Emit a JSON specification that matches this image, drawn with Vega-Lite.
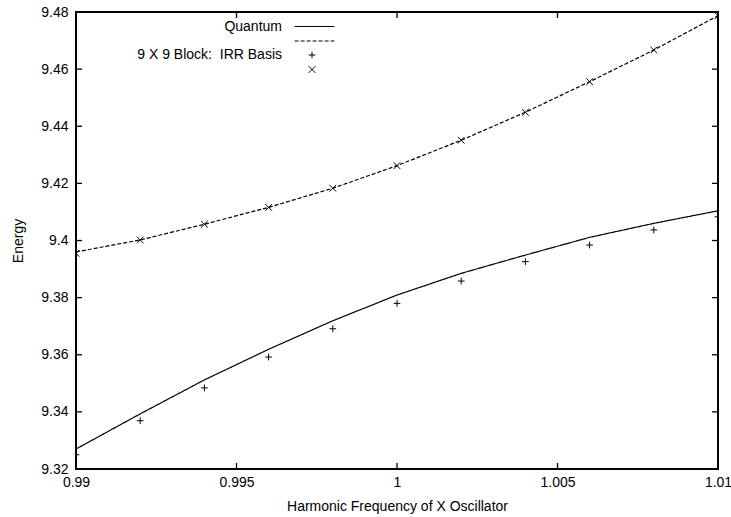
{
  "$schema": "https://vega.github.io/schema/vega-lite/v6.json",
  "width": 642,
  "height": 457,
  "autosize": {"type": "none"},
  "padding": {"left": 76, "top": 12, "right": 13, "bottom": 48},
  "background": "white",
  "config": {
    "font": "Liberation Sans",
    "view": {"stroke": "black", "strokeWidth": 2},
    "axis": {
      "domain": false,
      "ticks": false,
      "grid": false,
      "labelFont": "Liberation Sans",
      "labelFontSize": 14,
      "labelColor": "black",
      "titleFont": "Liberation Sans",
      "titleFontSize": 14,
      "titleFontWeight": "normal",
      "titleColor": "black"
    },
    "legend": {
      "labelFont": "Liberation Sans",
      "labelFontSize": 14,
      "labelColor": "black",
      "padding": 0
    }
  },
  "datasets": {
    "quantum": [
      {"f": 0.990, "E": 9.3270, "curve": "Quantum"},
      {"f": 0.992, "E": 9.3393, "curve": "Quantum"},
      {"f": 0.994, "E": 9.3512, "curve": "Quantum"},
      {"f": 0.996, "E": 9.3619, "curve": "Quantum"},
      {"f": 0.998, "E": 9.3719, "curve": "Quantum"},
      {"f": 1.000, "E": 9.3809, "curve": "Quantum"},
      {"f": 1.002, "E": 9.3885, "curve": "Quantum"},
      {"f": 1.004, "E": 9.3949, "curve": "Quantum"},
      {"f": 1.006, "E": 9.4011, "curve": "Quantum"},
      {"f": 1.008, "E": 9.4060, "curve": "Quantum"},
      {"f": 1.010, "E": 9.4104, "curve": "Quantum"},
      {"f": 0.990, "E": 9.3960, "curve": "Quantum (upper)"},
      {"f": 0.992, "E": 9.4002, "curve": "Quantum (upper)"},
      {"f": 0.994, "E": 9.4057, "curve": "Quantum (upper)"},
      {"f": 0.996, "E": 9.4116, "curve": "Quantum (upper)"},
      {"f": 0.998, "E": 9.4183, "curve": "Quantum (upper)"},
      {"f": 1.000, "E": 9.4262, "curve": "Quantum (upper)"},
      {"f": 1.002, "E": 9.4351, "curve": "Quantum (upper)"},
      {"f": 1.004, "E": 9.4449, "curve": "Quantum (upper)"},
      {"f": 1.006, "E": 9.4556, "curve": "Quantum (upper)"},
      {"f": 1.008, "E": 9.4667, "curve": "Quantum (upper)"},
      {"f": 1.010, "E": 9.4787, "curve": "Quantum (upper)"}
    ],
    "irr": [
      {"f": 0.990, "E": 9.3250, "set": "9 X 9 Block:  IRR Basis"},
      {"f": 0.992, "E": 9.3369, "set": "9 X 9 Block:  IRR Basis"},
      {"f": 0.994, "E": 9.3484, "set": "9 X 9 Block:  IRR Basis"},
      {"f": 0.996, "E": 9.3592, "set": "9 X 9 Block:  IRR Basis"},
      {"f": 0.998, "E": 9.3691, "set": "9 X 9 Block:  IRR Basis"},
      {"f": 1.000, "E": 9.3780, "set": "9 X 9 Block:  IRR Basis"},
      {"f": 1.002, "E": 9.3858, "set": "9 X 9 Block:  IRR Basis"},
      {"f": 1.004, "E": 9.3926, "set": "9 X 9 Block:  IRR Basis"},
      {"f": 1.006, "E": 9.3984, "set": "9 X 9 Block:  IRR Basis"},
      {"f": 1.008, "E": 9.4037, "set": "9 X 9 Block:  IRR Basis"},
      {"f": 1.010, "E": 9.4083, "set": "9 X 9 Block:  IRR Basis"},
      {"f": 0.990, "E": 9.3955, "set": "IRR (upper)"},
      {"f": 0.992, "E": 9.4002, "set": "IRR (upper)"},
      {"f": 0.994, "E": 9.4057, "set": "IRR (upper)"},
      {"f": 0.996, "E": 9.4116, "set": "IRR (upper)"},
      {"f": 0.998, "E": 9.4183, "set": "IRR (upper)"},
      {"f": 1.000, "E": 9.4262, "set": "IRR (upper)"},
      {"f": 1.002, "E": 9.4351, "set": "IRR (upper)"},
      {"f": 1.004, "E": 9.4449, "set": "IRR (upper)"},
      {"f": 1.006, "E": 9.4556, "set": "IRR (upper)"},
      {"f": 1.008, "E": 9.4667, "set": "IRR (upper)"},
      {"f": 1.010, "E": 9.4787, "set": "IRR (upper)"}
    ],
    "xTicks": [
      {"f": 0.995, "E": 9.32, "side": "bottom"}, {"f": 1.000, "E": 9.32, "side": "bottom"}, {"f": 1.005, "E": 9.32, "side": "bottom"},
      {"f": 0.995, "E": 9.48, "side": "top"}, {"f": 1.000, "E": 9.48, "side": "top"}, {"f": 1.005, "E": 9.48, "side": "top"}
    ],
    "yTicks": [
      {"f": 0.99, "E": 9.34, "side": "left"}, {"f": 0.99, "E": 9.36, "side": "left"}, {"f": 0.99, "E": 9.38, "side": "left"},
      {"f": 0.99, "E": 9.40, "side": "left"}, {"f": 0.99, "E": 9.42, "side": "left"}, {"f": 0.99, "E": 9.44, "side": "left"},
      {"f": 0.99, "E": 9.46, "side": "left"},
      {"f": 1.01, "E": 9.34, "side": "right"}, {"f": 1.01, "E": 9.36, "side": "right"}, {"f": 1.01, "E": 9.38, "side": "right"},
      {"f": 1.01, "E": 9.40, "side": "right"}, {"f": 1.01, "E": 9.42, "side": "right"}, {"f": 1.01, "E": 9.44, "side": "right"},
      {"f": 1.01, "E": 9.46, "side": "right"}
    ]
  },
  "layer": [
    {
      "data": {"name": "quantum"},
      "mark": {"type": "line", "color": "black", "strokeWidth": 1.2, "clip": true},
      "encoding": {
        "x": {
          "field": "f", "type": "quantitative",
          "scale": {"domain": [0.99, 1.01], "nice": false, "zero": false},
          "axis": {
            "orient": "bottom",
            "values": [0.99, 0.995, 1, 1.005, 1.01],
            "labelExpr": "'' + datum.value",
            "labelFlush": false,
            "labelPadding": 6,
            "title": "Harmonic Frequency of X Oscillator",
            "titlePadding": 10
          }
        },
        "y": {
          "field": "E", "type": "quantitative",
          "scale": {"domain": [9.32, 9.48], "nice": false, "zero": false},
          "axis": {
            "orient": "left",
            "values": [9.32, 9.34, 9.36, 9.38, 9.4, 9.42, 9.44, 9.46, 9.48],
            "labelExpr": "'' + datum.value",
            "labelFlush": false,
            "labelPadding": 8,
            "title": "Energy",
            "titlePadding": 15
          }
        },
        "strokeDash": {
          "field": "curve", "type": "nominal",
          "scale": {"domain": ["Quantum", "Quantum (upper)"], "range": [[1, 0], [4, 2]]},
          "legend": {
            "title": null,
            "orient": "none",
            "legendX": 231.5,
            "legendY": 7.5,
            "symbolType": "M-12,0H12",
            "symbolSize": 11,
            "symbolStrokeColor": "black",
            "symbolStrokeWidth": 1.2,
            "labelAlign": "right",
            "labelOffset": -39.5,
            "rowPadding": 0.5,
            "labelExpr": "datum.label == 'Quantum (upper)' ? '' : datum.label"
          }
        }
      }
    },
    {
      "data": {"name": "irr"},
      "mark": {"type": "point", "filled": false, "color": "black", "strokeWidth": 1, "size": 45, "opacity": 1, "clip": true},
      "encoding": {
        "x": {"field": "f", "type": "quantitative"},
        "y": {"field": "E", "type": "quantitative"},
        "shape": {
          "field": "set", "type": "nominal",
          "scale": {
            "domain": ["9 X 9 Block:  IRR Basis", "IRR (upper)"],
            "range": ["M-1,0H1M0,-1V1", "M-1,-1L1,1M1,-1L-1,1"]
          },
          "legend": {
            "title": null,
            "orient": "none",
            "legendX": 229,
            "legendY": 36,
            "symbolSize": 45,
            "symbolStrokeColor": "black",
            "symbolFillColor": "transparent",
            "symbolStrokeWidth": 1,
            "labelAlign": "right",
            "labelOffset": -37,
            "rowPadding": 0.5,
            "labelExpr": "datum.label == 'IRR (upper)' ? '' : replace(datum.label, '  ', '\u00a0 ')"
          }
        }
      }
    },
    {
      "data": {"name": "xTicks"},
      "transform": [{"filter": "datum.side == 'bottom'"}],
      "mark": {"type": "tick", "orient": "vertical", "size": 6, "thickness": 1.3, "color": "black", "opacity": 1, "yOffset": -3},
      "encoding": {
        "x": {"field": "f", "type": "quantitative"},
        "y": {"field": "E", "type": "quantitative"}
      }
    },
    {
      "data": {"name": "xTicks"},
      "transform": [{"filter": "datum.side == 'top'"}],
      "mark": {"type": "tick", "orient": "vertical", "size": 6, "thickness": 1.3, "color": "black", "opacity": 1, "yOffset": 3},
      "encoding": {
        "x": {"field": "f", "type": "quantitative"},
        "y": {"field": "E", "type": "quantitative"}
      }
    },
    {
      "data": {"name": "yTicks"},
      "transform": [{"filter": "datum.side == 'left'"}],
      "mark": {"type": "tick", "orient": "horizontal", "size": 6, "thickness": 1.3, "color": "black", "opacity": 1, "xOffset": 3},
      "encoding": {
        "x": {"field": "f", "type": "quantitative"},
        "y": {"field": "E", "type": "quantitative"}
      }
    },
    {
      "data": {"name": "yTicks"},
      "transform": [{"filter": "datum.side == 'right'"}],
      "mark": {"type": "tick", "orient": "horizontal", "size": 6, "thickness": 1.3, "color": "black", "opacity": 1, "xOffset": -3},
      "encoding": {
        "x": {"field": "f", "type": "quantitative"},
        "y": {"field": "E", "type": "quantitative"}
      }
    }
  ]
}
